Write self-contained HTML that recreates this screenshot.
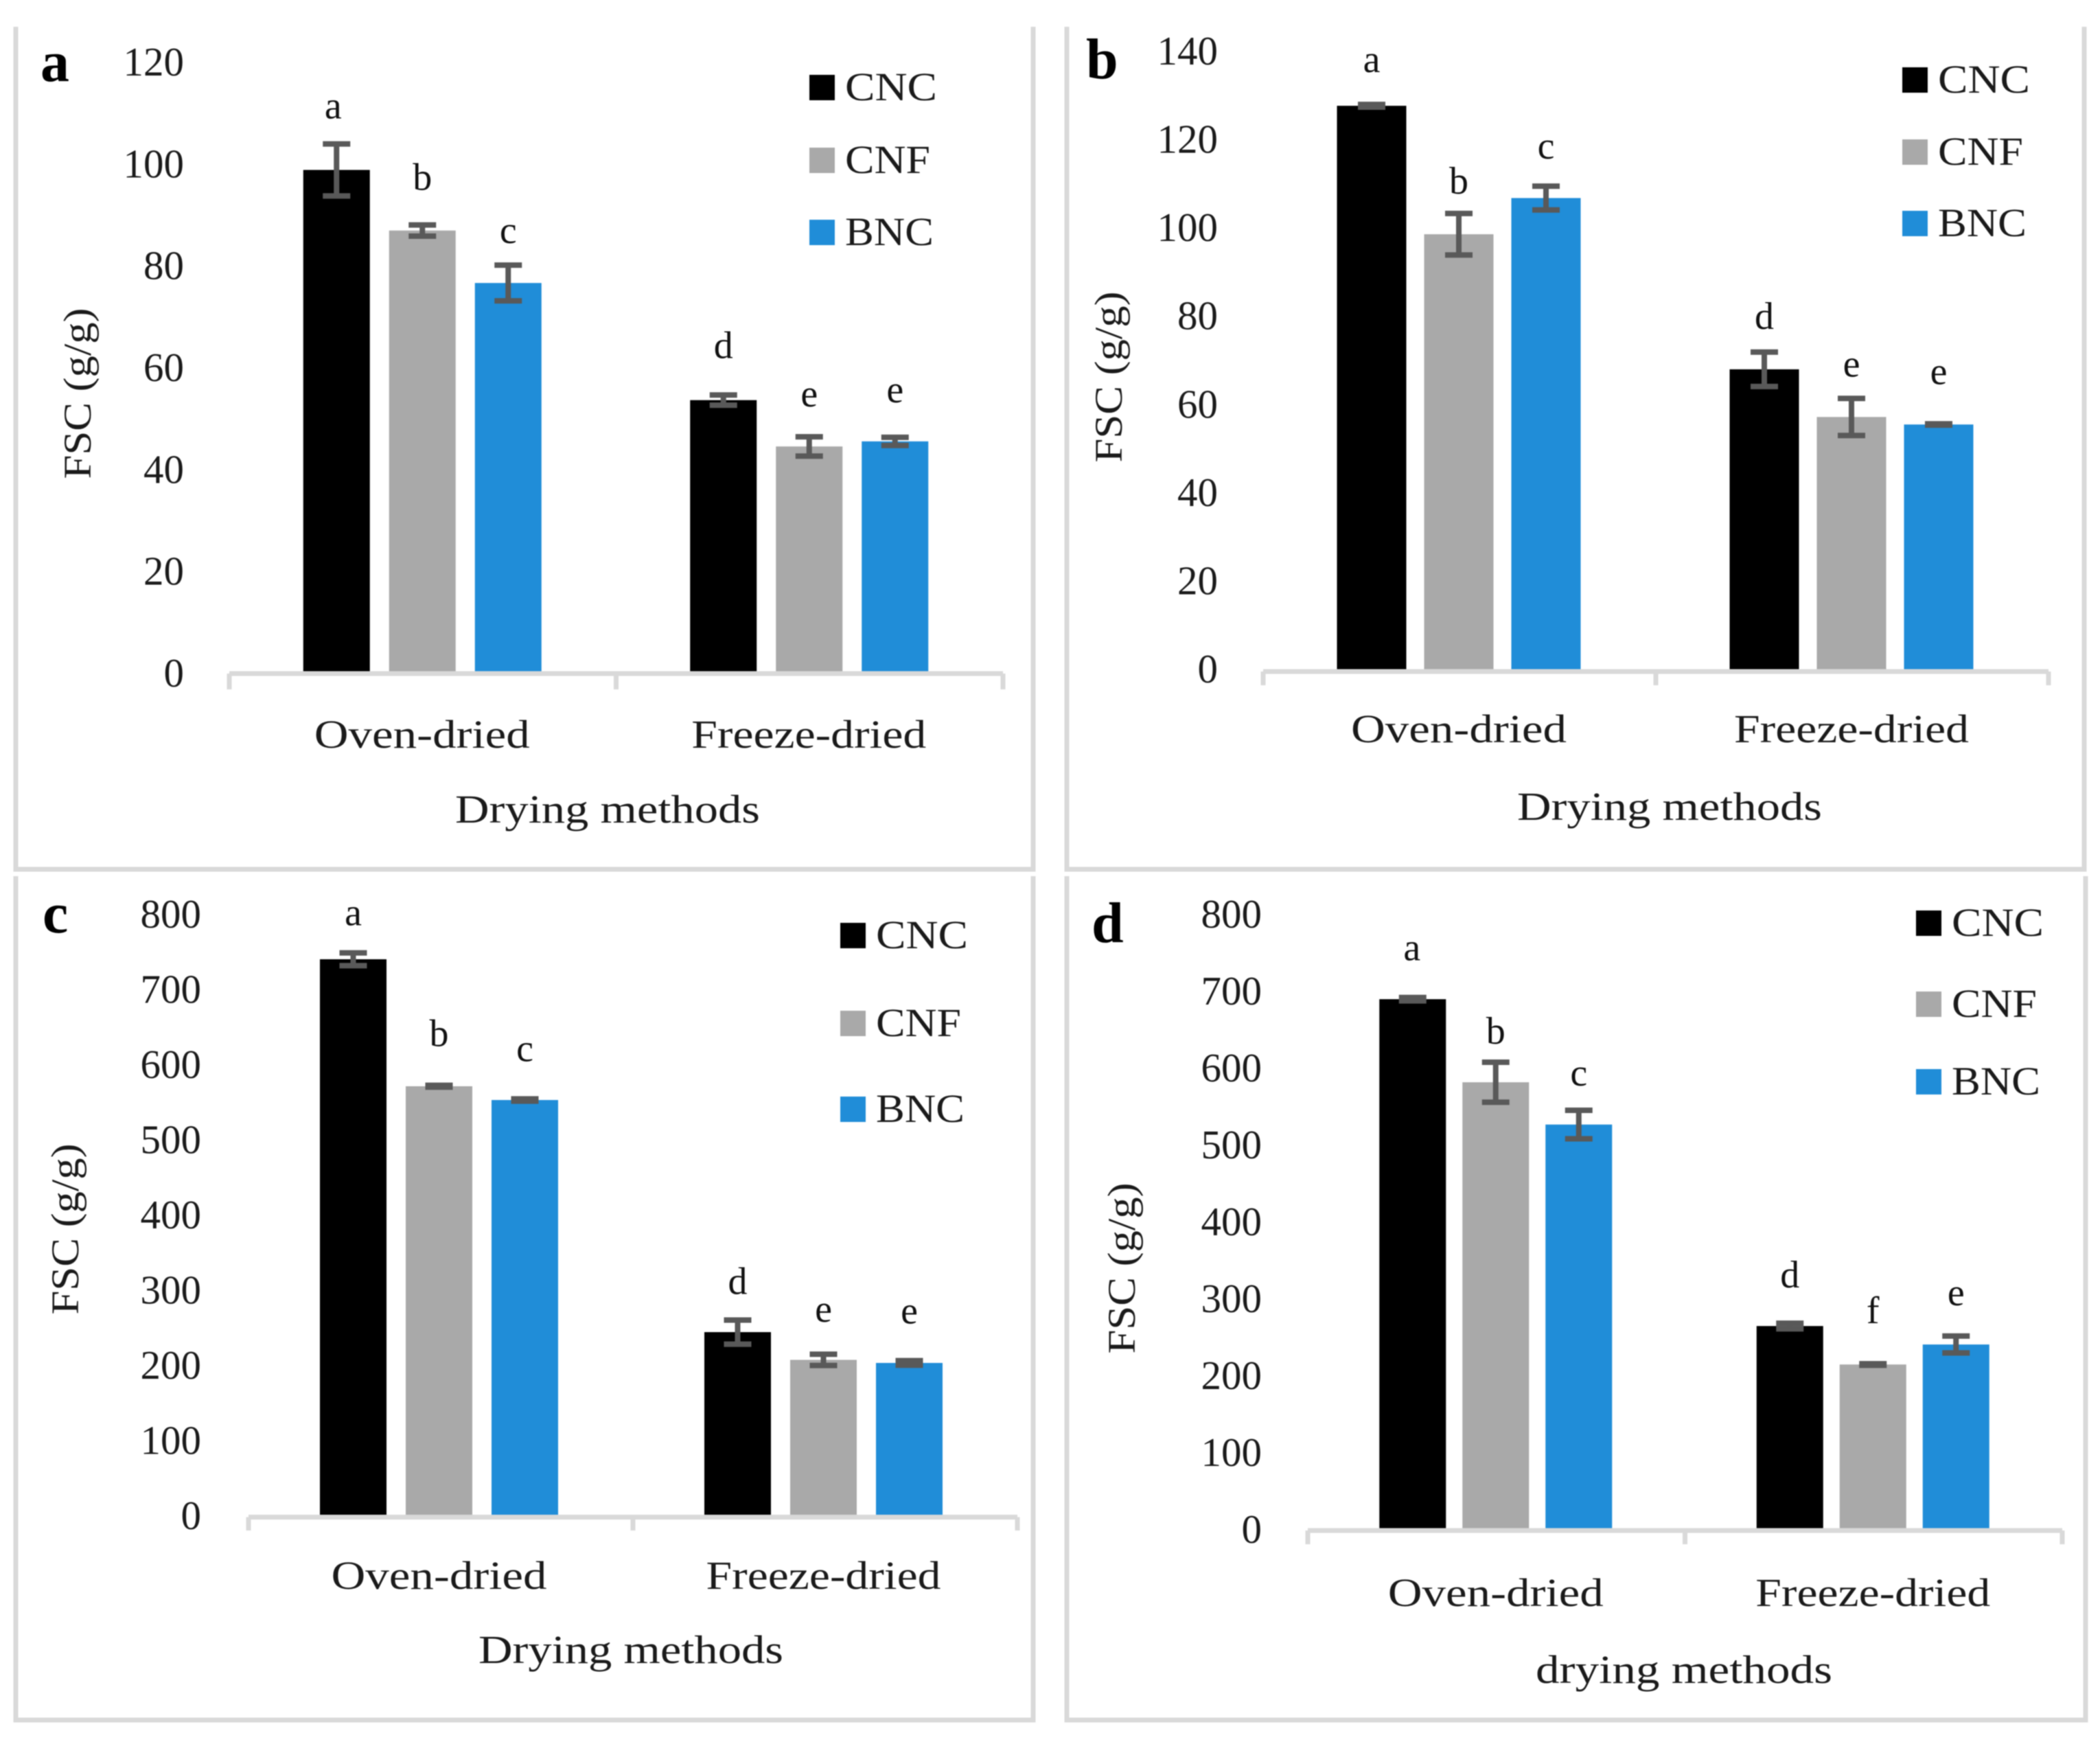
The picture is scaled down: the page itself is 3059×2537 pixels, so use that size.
<!DOCTYPE html>
<html>
<head>
<meta charset="utf-8">
<title>FSC by drying method</title>
<style>
html,body{margin:0;padding:0;background:#fff;}
svg{display:block;font-family:"Liberation Serif",serif;filter:blur(0.7px);}
</style>
</head>
<body>
<svg id="figure" width="3059" height="2537" viewBox="0 0 3059 2537" xmlns="http://www.w3.org/2000/svg"></svg>
<script>
const seriesNames = ['CNC', 'CNF', 'BNC'];
const categories = ['Oven-dried', 'Freeze-dried'];

const aTicks = [0, 20, 40, 60, 80, 100, 120];
const aCNC = [98.9, 53.7];
const aCNF = [87, 44.6];
const aBNC = [76.7, 45.6];
const aErrCNC = [5.1, 1.0];
const aErrCNF = [1.1, 1.9];
const aErrBNC = [3.5, 0.8];
const aLetters = ['a', 'b', 'c', 'd', 'e', 'e'];

const bTicks = [0, 20, 40, 60, 80, 100, 120, 140];
const bCNC = [127.7, 68];
const bCNF = [98.6, 57.2];
const bBNC = [106.8, 55.5];
const bErrCNC = [0.3, 3.9];
const bErrCNF = [4.7, 4.2];
const bErrBNC = [2.7, 0.15];
const bLetters = ['a', 'b', 'c', 'd', 'e', 'e'];

const cTicks = [0, 100, 200, 300, 400, 500, 600, 700, 800];
const cCNC = [740.6, 244.7];
const cCNF = [571.7, 207.8];
const cBNC = [553.4, 203.7];
const cErrCNC = [8.5, 16];
const cErrCNF = [1.2, 7.5];
const cErrBNC = [1.5, 3];
const cLetters = ['a', 'b', 'c', 'd', 'e', 'e'];

const dTicks = [0, 100, 200, 300, 400, 500, 600, 700, 800];
const dCNC = [690, 265];
const dCNF = [582, 215];
const dBNC = [527, 241];
const dErrCNC = [2.2, 3.6];
const dErrCNF = [26, 1];
const dErrBNC = [18.5, 11];
const dLetters = ['a', 'b', 'c', 'd', 'f', 'e'];

const seriesColors = ['#000000', '#a9a9a9', '#208dd8'];
const svg = document.getElementById('figure');

function make(tag, attrs, parent) {
  const el = document.createElementNS('http://www.w3.org/2000/svg', tag);
  for (const k in attrs) el.setAttribute(k, attrs[k]);
  parent.appendChild(el);
  return el;
}

function drawPanel(p) {
  const g = make('g', {}, svg);
  
  

  const frame = make('path', {
    d: 'M' + p.frame[0] + ' ' + p.frame[1] + 'V' + p.frame[3] + 'H' + p.frame[2] + 'V' + p.frame[1],
    fill: 'none', stroke: '#d9d9d9', 'stroke-width': 7
  }, g);
  
  

  const panelLetter = make('text', {x: p.letterX, y: p.letterY, 'font-size': 84, 'font-weight': 'bold', fill: '#000'}, g);
  panelLetter.textContent = p.id;
  
  

  const yMax = p.ticks[p.ticks.length - 1];
  const yScale = v => p.y0 - (v / yMax) * (p.y0 - p.yTop);
  const band = (p.xRight - p.xLeft) / categories.length;
  const groupCenter = i => p.xLeft + band * (i + 0.5) + p.groupShift;
  const barCenter = (i, s) => groupCenter(i) + (s - 1) * p.pitch;

  p.ticks.forEach(t => {
    const label = make('text', {x: p.tickRight, y: yScale(t) + 19, 'text-anchor': 'end', 'font-size': 59, fill: '#1a1a1a'}, g);
    label.textContent = String(t);
    
    
  });

  const yTitle = make('text', {
    transform: 'translate(' + p.yTitleX + ',' + p.yTitleY + ') rotate(-90)',
    'text-anchor': 'middle', 'font-size': 57, fill: '#1a1a1a',
    textLength: 249, lengthAdjust: 'spacingAndGlyphs'
  }, g);
  yTitle.textContent = 'FSC (g/g)';
  
  

  p.series.forEach((vals, s) => {
    vals.forEach((v, i) => {
      const cx = barCenter(i, s);
      const top = yScale(v);
      const bar = make('rect', {x: cx - p.barW / 2, y: top, width: p.barW, height: yScale(0) - top, fill: seriesColors[s]}, g);
      
      
    });
  });

  p.series.forEach((vals, s) => {
    vals.forEach((v, i) => {
      const cx = barCenter(i, s);
      const err = p.errors[s][i];
      const yHi = yScale(v + err);
      const yLo = yScale(v - err);
      const eb = make('path', {
        d: 'M' + cx + ' ' + yHi + 'V' + yLo +
           'M' + (cx - 20) + ' ' + yHi + 'H' + (cx + 20) +
           'M' + (cx - 20) + ' ' + yLo + 'H' + (cx + 20),
        fill: 'none', stroke: '#595959', 'stroke-width': 8
      }, g);
      
      

      const letter = make('text', {
        x: cx + p.letterNudge[i * 3 + s],
        y: yHi - 4 - p.letterGaps[i * 3 + s],
        'text-anchor': 'middle', 'font-size': 56, fill: '#111'
      }, g);
      letter.textContent = p.letters[i * 3 + s];
      
      
    });
  });

  const axis = make('path', {
    d: 'M' + p.xLeft + ' ' + p.axisY + 'H' + p.xRight +
       'M' + p.xLeft + ' ' + p.axisY + 'V' + p.tickEnd +
       'M' + (p.xLeft + band) + ' ' + p.axisY + 'V' + p.tickEnd +
       'M' + p.xRight + ' ' + p.axisY + 'V' + p.tickEnd,
    fill: 'none', stroke: '#d9d9d9', 'stroke-width': 7
  }, g);
  
  

  const catWidths = [314, 342];
  categories.forEach((c, i) => {
    const label = make('text', {
      x: p.xLeft + band * (i + 0.5) + p.catShift, y: p.catY, 'text-anchor': 'middle', 'font-size': 58, fill: '#1a1a1a',
      textLength: catWidths[i], lengthAdjust: 'spacingAndGlyphs'
    }, g);
    label.textContent = c;
    
    
  });

  const xTitle = make('text', {
    x: p.xTitleX, y: p.xTitleY, 'text-anchor': 'middle', 'font-size': 58, fill: '#1a1a1a',
    textLength: p.xTitleW, lengthAdjust: 'spacingAndGlyphs'
  }, g);
  xTitle.textContent = p.xTitle;
  
  

  const legendWidths = [134, 124, 129];
  seriesNames.forEach((name, s) => {
    const swatch = make('rect', {x: p.legendX, y: p.legendYs[s] - 18, width: 37, height: 37, fill: seriesColors[s]}, g);
    
    
    const txt = make('text', {
      x: p.legendX + 52, y: p.legendYs[s] + 19, 'font-size': 58, fill: '#1a1a1a',
      textLength: legendWidths[s], lengthAdjust: 'spacingAndGlyphs'
    }, g);
    txt.textContent = name;
    
    
  });
}

drawPanel({
  id: 'a', ticks: aTicks, letters: aLetters,
  series: [aCNC, aCNF, aBNC], errors: [aErrCNC, aErrCNF, aErrBNC],
  frame: [23, 39, 1505, 1266], letterX: 59, letterY: 118,
  y0: 981, yTop: 91, xLeft: 334, xRight: 1461, axisY: 981, tickEnd: 1004,
  groupShift: -0.5, catShift: -1, pitch: 125, barW: 97, tickRight: 268,
  yTitleX: 132, yTitleY: 573, catY: 1089,
  xTitle: 'Drying methods', xTitleX: 885, xTitleY: 1198, xTitleW: 444,
  legendX: 1179, legendYs: [127, 233, 338],
  letterGaps: [33, 47, 28, 50, 40, 47], letterNudge: [-5, 0, 0, 0, 0, 0]
});

drawPanel({
  id: 'b', ticks: bTicks, letters: bLetters,
  series: [bCNC, bCNF, bBNC], errors: [bErrCNC, bErrCNF, bErrBNC],
  frame: [1554, 39, 3036, 1266], letterX: 1582, letterY: 114,
  y0: 975, yTop: 75, xLeft: 1840, xRight: 2984, axisY: 978, tickEnd: 998,
  groupShift: -1, catShift: -1, pitch: 127, barW: 101, tickRight: 1774,
  yTitleX: 1634, yTitleY: 549, catY: 1081,
  xTitle: 'Drying methods', xTitleX: 2432, xTitleY: 1194, xTitleW: 444,
  legendX: 2771, legendYs: [116, 221, 325],
  letterGaps: [43, 25, 36, 30, 28, 54], letterNudge: [0, 0, 0, 0, 0, 0]
});

drawPanel({
  id: 'c', ticks: cTicks, letters: cLetters,
  series: [cCNC, cCNF, cBNC], errors: [cErrCNC, cErrCNF, cErrBNC],
  frame: [23, 1276, 1505, 2505], letterX: 62, letterY: 1358,
  y0: 2208, yTop: 1332, xLeft: 362, xRight: 1482, axisY: 2209.5, tickEnd: 2229,
  groupShift: -2.5, catShift: -2.5, pitch: 125, barW: 97, tickRight: 293,
  yTitleX: 114, yTitleY: 1790, catY: 2314,
  xTitle: 'Drying methods', xTitleX: 919, xTitleY: 2422, xTitleW: 444,
  legendX: 1224, legendYs: [1362, 1490, 1615],
  letterGaps: [36, 53, 51, 34, 43, 50], letterNudge: [0, 0, 0, 0, 0, 0]
});

drawPanel({
  id: 'd', ticks: dTicks, letters: dLetters,
  series: [dCNC, dCNF, dBNC], errors: [dErrCNC, dErrCNF, dErrBNC],
  frame: [1554, 1276, 3038, 2505], letterX: 1590, letterY: 1372,
  y0: 2228, yTop: 1332, xLeft: 1905, xRight: 3004, axisY: 2229, tickEnd: 2249,
  groupShift: -1, catShift: -1, pitch: 121, barW: 97, tickRight: 1838,
  yTitleX: 1653, yTitleY: 1847, catY: 2339,
  xTitle: 'drying methods', xTitleX: 2453, xTitleY: 2451, xTitleW: 432,
  legendX: 2791, legendYs: [1344, 1462, 1575],
  letterGaps: [50, 23, 32, 48, 55, 41], letterNudge: [-1, 0, 0, 0, 0, 0]
});
</script>
</body>
</html>
